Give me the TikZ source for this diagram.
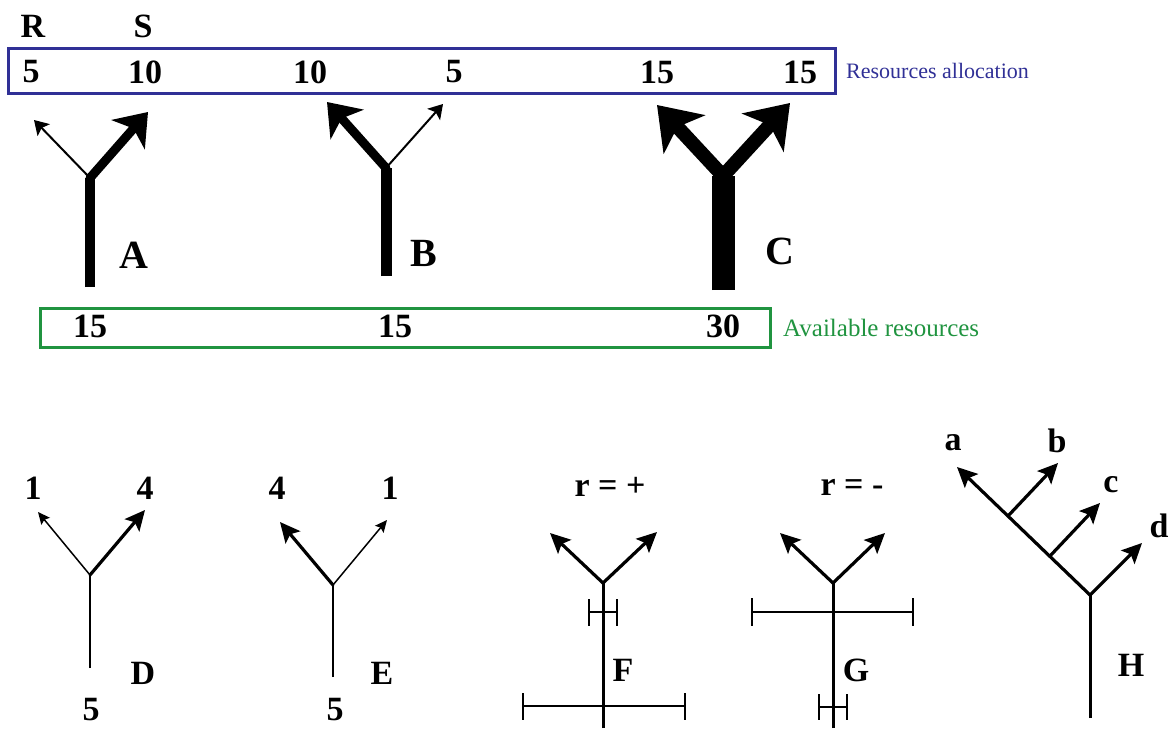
\documentclass[tikz,border=0pt]{standalone}
\usepackage{fontspec}
\setmainfont{Liberation Serif}
\usetikzlibrary{arrows.meta}
\definecolor{allocblue}{RGB}{48,48,150}
\definecolor{availgreen}{RGB}{32,148,64}
\tikzset{
  num/.style = {font = \fontsize{34}{36}\selectfont\bfseries, inner sep = 0pt},
  tag/.style = {font = \fontsize{40}{44}\selectfont\bfseries, inner sep = 0pt},
  note/.style = {inner sep = 0pt, anchor = west},
  stem/.style = {line cap = butt},
  twig/.style = {line width = 2pt, line cap = round, -{Stealth[length = 14pt, width = 17pt, inset = 3pt]}},
  bough/.style = {line width = 9pt, line cap = round, -{Stealth[length = 30pt, width = 44pt, inset = 8pt]}},
  limb/.style = {line width = 14pt, line cap = round, -{Stealth[length = 40pt, width = 56pt, inset = 10pt]}},
  fine/.style = {line width = 1.5pt, line cap = round, -{Stealth[length = 12pt, width = 11pt, inset = 2pt]}},
  firm/.style = {line width = 3.2pt, line cap = round, -{Stealth[length = 20pt, width = 19pt, inset = 4pt]}},
  errbar/.style = {line width = 1.4pt}
}
\begin{document}
\begin{tikzpicture}[x = 1pt, y = -1pt]
\useasboundingbox (0,0) rectangle (1175,731);
% resources allocation box
\draw[color = allocblue, line width = 3pt] (8,48) rectangle (835,93);
\node[num] (R) at (33, 26) {R};
\node[num] (S) at (143, 26) {S};
\node[num] (AR5) at (31, 72) {5};
\node[num] (AS10) at (145, 72) {10};
\node[num] (BR10) at (310, 72) {10};
\node[num] (BS5) at (454, 72) {5};
\node[num] (CR15) at (657, 72) {15};
\node[num] (CS15) at (800, 72) {15};
\node[note, font = \fontsize{22}{24}\selectfont, color = allocblue] (alloc) at (846, 71) {Resources allocation};
% available resources box
\draw[color = availgreen, line width = 3pt] (40,308) rectangle (770,347);
\node[num] (A15) at (90, 326) {15};
\node[num] (B15) at (395, 326) {15};
\node[num] (C30) at (723, 326) {30};
\node[note, font = \fontsize{25}{28}\selectfont, color = availgreen] (avail) at (783, 328) {Available resources};
% A, B, C
\coordinate (Abase) at (90, 287);
\coordinate (Afork) at (90, 178);
\coordinate (Atip1) at (34, 120);
\coordinate (Atip2) at (148, 112);
\draw[stem, line width = 10pt] (Abase) -- (Afork);
\draw[twig] (Afork) -- (Atip1);
\draw[bough] (Afork) -- (Atip2);
\node[tag] (A) at (134, 255) {A};
\coordinate (Bbase) at (386, 276);
\coordinate (Bfork) at (386, 168);
\coordinate (Btip1) at (327, 102);
\coordinate (Btip2) at (443, 104);
\draw[stem, line width = 11pt] (Bbase) -- (Bfork);
\draw[bough] (Bfork) -- (Btip1);
\draw[twig] (Bfork) -- (Btip2);
\node[tag] (B) at (424, 253) {B};
\coordinate (Cbase) at (723, 290);
\coordinate (Cfork) at (723, 176);
\coordinate (Ctip1) at (657, 105);
\coordinate (Ctip2) at (790, 103);
\draw[stem, line width = 23pt] (Cbase) -- (Cfork);
\draw[limb] (Cfork) -- (Ctip1);
\draw[limb] (Cfork) -- (Ctip2);
\node[tag] (C) at (780, 251) {C};
% D and E
\coordinate (Dbase) at (90, 668);
\coordinate (Dfork) at (90, 575);
\coordinate (Dtip1) at (38, 512);
\coordinate (Dtip2) at (145, 510);
\draw[stem, line width = 2.5pt] (Dbase) -- (Dfork);
\draw[fine] (Dfork) -- (Dtip1);
\draw[firm] (Dfork) -- (Dtip2);
\node[num] (D1) at (33, 488) {1};
\node[num] (D4) at (145, 488) {4};
\node[num] (D) at (143, 673) {D};
\node[num] (D5) at (91, 710) {5};
\coordinate (Ebase) at (333, 677);
\coordinate (Efork) at (333, 585);
\coordinate (Etip1) at (280, 522);
\coordinate (Etip2) at (387, 520);
\draw[stem, line width = 2.5pt] (Ebase) -- (Efork);
\draw[firm] (Efork) -- (Etip1);
\draw[fine] (Efork) -- (Etip2);
\node[num] (E4) at (277, 488) {4};
\node[num] (E1) at (390, 488) {1};
\node[num] (E) at (382, 673) {E};
\node[num] (E5) at (335, 710) {5};
% F and G
\coordinate (Fbase) at (603, 728);
\coordinate (Ffork) at (603, 583);
\coordinate (Ftip1) at (550, 533);
\coordinate (Ftip2) at (657, 532);
\draw[stem, line width = 3pt] (Fbase) -- (Ffork);
\draw[firm] (Ffork) -- (Ftip1);
\draw[firm] (Ffork) -- (Ftip2);
\draw[errbar] (589,612) -- (617,612) (589,599) -- (589,626) (617,599) -- (617,626);
\draw[errbar] (523,706) -- (685,706) (523,693) -- (523,720) (685,693) -- (685,720);
\node[num] (F) at (623, 670) {F};
\node[num] (rF) at (610, 487) {r = +};
\coordinate (Gbase) at (833, 728);
\coordinate (Gfork) at (833, 583);
\coordinate (Gtip1) at (780, 533);
\coordinate (Gtip2) at (885, 533);
\draw[stem, line width = 3pt] (Gbase) -- (Gfork);
\draw[firm] (Gfork) -- (Gtip1);
\draw[firm] (Gfork) -- (Gtip2);
\draw[errbar] (752,612) -- (913,612) (752,598) -- (752,626) (913,598) -- (913,626);
\draw[errbar] (819,707) -- (847,707) (819,694) -- (819,720) (847,694) -- (847,720);
\node[num] (G) at (856, 670) {G};
\node[num] (rG) at (852, 487) {r = -};
% H
\coordinate (Hbase) at (1090, 718);
\coordinate (Hfork) at (1090, 595);
\coordinate (Ha) at (957, 467);
\coordinate (Hb0) at (1008, 516);
\coordinate (Hb) at (1058, 463);
\coordinate (Hc0) at (1050, 556);
\coordinate (Hc) at (1100, 503);
\coordinate (Hd) at (1142, 543);
\draw[stem, line width = 3pt] (Hbase) -- (Hfork);
\draw[firm] (Hfork) -- (Ha);
\draw[firm] (Hb0) -- (Hb);
\draw[firm] (Hc0) -- (Hc);
\draw[firm] (Hfork) -- (Hd);
\node[num] (a) at (953, 443) {a};
\node[num] (b) at (1057, 441) {b};
\node[num] (c) at (1111, 485) {c};
\node[num] (d) at (1159, 526) {d};
\node[num] (H) at (1131, 665) {H};
\end{tikzpicture}
\end{document}
